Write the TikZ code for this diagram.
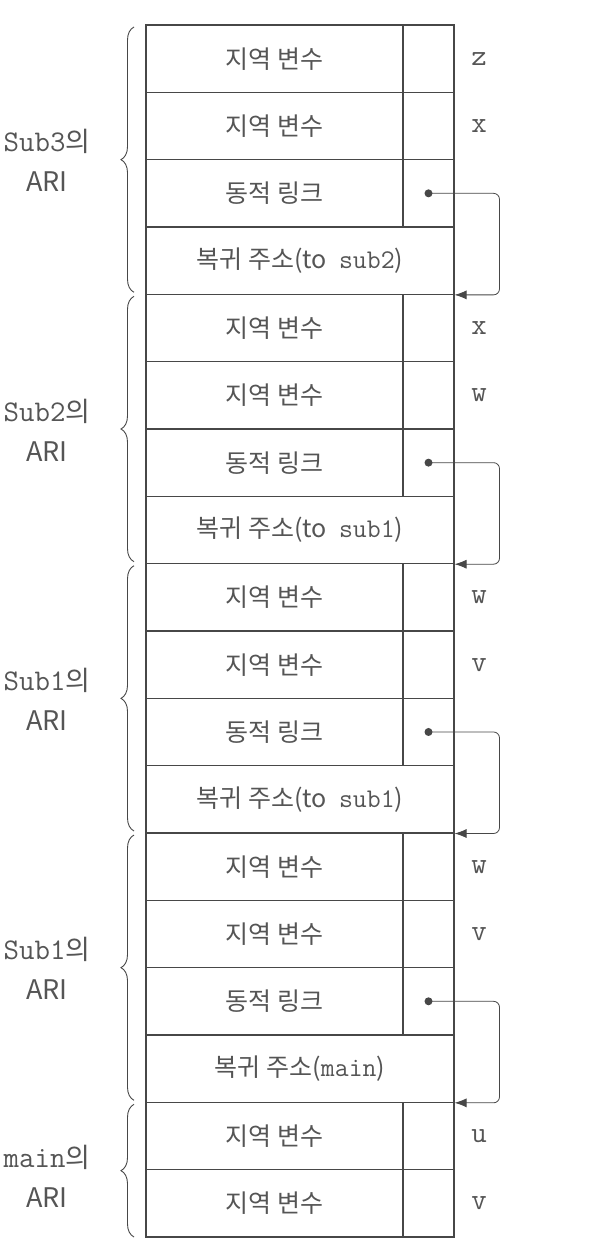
\documentclass[tikz,border=0pt]{standalone}
\usepackage{fontspec}
\setmainfont{Noto Sans CJK KR}
\usetikzlibrary{decorations.pathreplacing,arrows.meta}
\definecolor{ink}{HTML}{474747}
\definecolor{txt}{HTML}{555555}
\newcommand{\mytt}[1]{{\fontsize{27}{27}\selectfont\ttfamily #1}}
\newcommand{\grptt}[1]{{\fontsize{30}{30}\selectfont\ttfamily #1}}
\begin{document}
\begin{tikzpicture}[x=1pt,y=-1pt,
  cellbase/.style={draw=ink, line width=1.1pt, minimum height=67.33pt, inner sep=0pt,
    text=txt, font=\fontsize{25}{25}\selectfont},
  lcell/.style={cellbase, minimum width=257pt},
  rcell/.style={cellbase, minimum width=51pt},
  fcell/.style={cellbase, minimum width=308pt},
  varlabel/.style={text=txt, font=\fontsize{30}{30}\selectfont\ttfamily, inner sep=0pt},
  grplabel/.style={text=txt, align=center, font=\fontsize{27}{40}\selectfont, inner sep=0pt},
  grpbrace/.style={draw=ink, line width=0.9pt, decorate, decoration={brace, amplitude=13pt}},
  link/.style={draw=ink, line width=0.8pt, rounded corners=6pt, -{Latex[length=12pt,width=9pt]}},
  dotmark/.style={fill=ink}
]
\useasboundingbox (0,0) rectangle (612,1258);
% local variable rows
\foreach \i in {0,1,4,5,8,9,12,13,16,17}{
  \node[lcell] (c\i) at (274.5,{58.67+67.33*\i}) {지역 변수};
  \node[rcell] (r\i) at (428.5,{58.67+67.33*\i}) {};
}
% dynamic link rows
\foreach \i in {2,6,10,14}{
  \node[lcell] (c\i) at (274.5,{58.67+67.33*\i}) {동적 링크};
  \node[rcell] (r\i) at (428.5,{58.67+67.33*\i}) {};
}
% return address rows
\node[fcell] (c3) at (300,{58.67+67.33*3}) {복귀 주소(to\hspace{12pt}\mytt{sub2})};
\node[fcell] (c7) at (300,{58.67+67.33*7}) {복귀 주소(to\hspace{12pt}\mytt{sub1})};
\node[fcell] (c11) at (300,{58.67+67.33*11}) {복귀 주소(to\hspace{12pt}\mytt{sub1})};
\node[fcell] (c15) at (300,{58.67+67.33*15}) {복귀 주소(\mytt{main})};
% variable names
\foreach \i/\v in {0/z,1/x,4/x,5/w,8/w,9/v,12/w,13/v,16/u,17/v}{
  \node[varlabel] (v\i) at (479,{58.67+67.33*\i}) {\v};
}
% dynamic links
\foreach \a/\b in {2/3,6/7,10/11,14/15}{
  \fill[dotmark] (r\a.center) circle (4pt);
  \draw[link] (r\a.center) -- ++(71,0) |- (c\b.south east);
}
% braces
\draw[grpbrace] (134,292.3) -- (134,27);
\draw[grpbrace] (134,561.7) -- (134,296.3);
\draw[grpbrace] (134,831) -- (134,565.7);
\draw[grpbrace] (134,1100.3) -- (134,835);
\draw[grpbrace] (134,1237) -- (134,1104.3);
% group labels
\node[grplabel] (g3) at (47,160) {\grptt{Sub3}의\\ARI};
\node[grplabel] (g2) at (47,430) {\grptt{Sub2}의\\ARI};
\node[grplabel] (g1a) at (47,699) {\grptt{Sub1}의\\ARI};
\node[grplabel] (g1b) at (47,968) {\grptt{Sub1}의\\ARI};
\node[grplabel] (gm) at (47,1176) {\grptt{main}의\\ARI};
\end{tikzpicture}
\end{document}
